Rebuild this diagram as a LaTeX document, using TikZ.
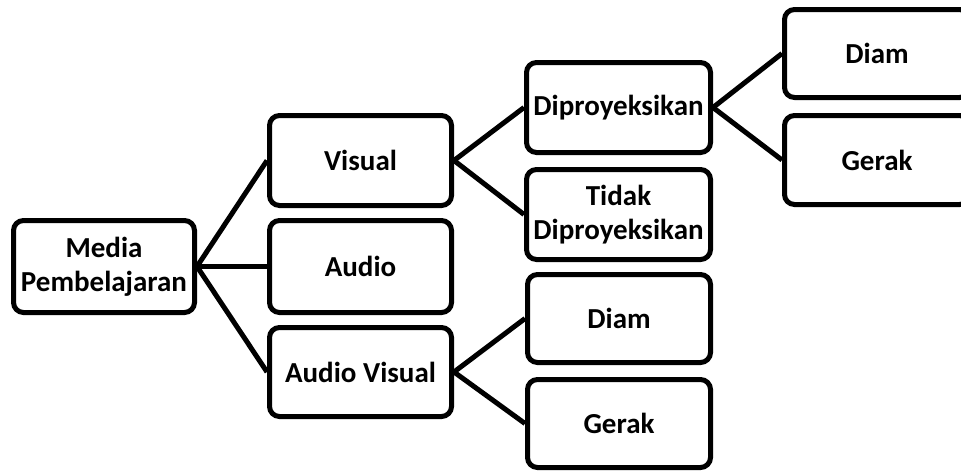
\documentclass[tikz,border=0pt]{standalone}
\usepackage{fontspec}
\setmainfont{Carlito}
\begin{document}
\begin{tikzpicture}[x=1pt,y=-1pt,
  box/.style={draw=black, line width=5pt, rounded corners=10pt, minimum width=182pt, minimum height=90pt, inner sep=0pt, align=center, font=\bfseries\fontsize{29}{34}\selectfont},
  link/.style={line width=5pt}]
\useasboundingbox (0,0) rectangle (961,471);
\clip (0,0) rectangle (961,471);
\node[box, minimum width=181pt, minimum height=92pt] (media) at (104,266.5) {Media\\Pembelajaran};
\node[box] (visual) at (360.5,160.5) {Visual};
\node[box, minimum height=92pt] (audio) at (360.5,266.5) {Audio};
\node[box, minimum height=89pt] (av) at (360.5,372) {Audio Visual};
\node[box, minimum width=184pt] (dipro) at (618.5,107.5) {Diproyeksikan};
\node[box, minimum width=184pt] (tidak) at (618.5,214.5) {Tidak\\Diproyeksikan};
\node[box, minimum width=183pt, minimum height=88pt] (diamb) at (619,318.5) {Diam};
\node[box, minimum width=183pt, minimum height=88pt] (gerakb) at (619,423.5) {Gerak};
\node[box, minimum width=185pt, minimum height=88pt] (diama) at (877,53.5) {Diam};
\node[box, minimum width=185pt, minimum height=89pt] (geraka) at (877,160) {Gerak};
\draw[link] (media.east) -- (visual.west);
\draw[link] (media.east) -- (audio.west);
\draw[link] (media.east) -- (av.west);
\draw[link] (visual.east) -- (dipro.west);
\draw[link] (visual.east) -- (tidak.west);
\draw[link] (dipro.east) -- (diama.west);
\draw[link] (dipro.east) -- (geraka.west);
\draw[link] (av.east) -- (diamb.west);
\draw[link] (av.east) -- (gerakb.west);
\end{tikzpicture}
\end{document}
